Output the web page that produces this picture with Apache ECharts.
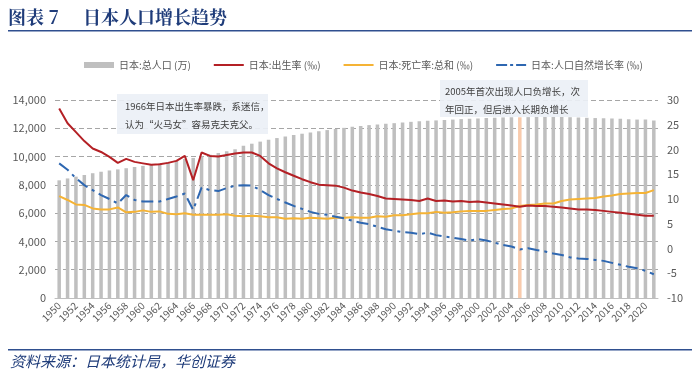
<!DOCTYPE html>
<html>
<head>
<meta charset="utf-8">
<script src="https://cdn.jsdelivr.net/npm/echarts@6/dist/echarts.min.js"></script>
<style>
html,body{margin:0;padding:0;background:#fff;}
#c{width:700px;height:382px;}
</style>
</head>
<body>
<div id="c"></div>
<script>
const years = ['1950','1951','1952','1953','1954','1955','1956','1957','1958','1959',
'1960','1961','1962','1963','1964','1965','1966','1967','1968','1969',
'1970','1971','1972','1973','1974','1975','1976','1977','1978','1979',
'1980','1981','1982','1983','1984','1985','1986','1987','1988','1989',
'1990','1991','1992','1993','1994','1995','1996','1997','1998','1999',
'2000','2001','2002','2003','2004','2005','2006','2007','2008','2009',
'2010','2011','2012','2013','2014','2015','2016','2017','2018','2019',
'2020','2021'];

const population = [8320,8454,8581,8697,8823,8928,9017,9093,9177,9264,
9342,9429,9518,9616,9718,9828,9904,10020,10133,10254,
10372,10515,10760,10910,11057,11194,11309,11417,11519,11616,
11706,11790,11873,11954,12031,12105,12166,12224,12275,12321,
12361,12410,12457,12494,12527,12557,12586,12616,12649,12667,
12693,12732,12749,12769,12779,12777,12790,12803,12808,12803,
12806,12783,12759,12741,12724,12709,12693,12671,12644,12617,
12615,12550];

const birthRate = [28.3,25.3,23.5,21.7,20.2,19.5,18.5,17.3,18.1,17.5,
17.2,16.9,17.0,17.3,17.7,18.7,13.8,19.4,18.7,18.6,
18.9,19.2,19.4,19.4,18.7,17.2,16.2,15.4,14.7,14.0,
13.4,12.9,12.8,12.7,12.3,11.7,11.3,11.0,10.6,10.1,
10.0,9.9,9.8,9.6,10.1,9.6,9.7,9.5,9.6,9.4,
9.5,9.3,9.1,8.9,8.7,8.45,8.7,8.6,8.6,8.45,
8.3,8.1,7.9,7.9,7.8,7.6,7.4,7.2,7.0,6.8,
6.6,6.6];

const deathRate = [10.6,9.8,8.9,8.8,8.1,7.9,7.9,8.3,7.3,7.4,
7.7,7.4,7.5,7.0,6.9,7.1,6.8,6.8,6.8,6.8,
6.9,6.6,6.5,6.6,6.5,6.3,6.3,6.0,6.1,6.0,
6.2,6.1,6.0,6.2,6.2,6.3,6.2,6.2,6.5,6.4,
6.7,6.7,6.9,7.1,7.1,7.4,7.2,7.3,7.5,7.6,
7.6,7.6,7.8,8.0,8.1,8.6,8.8,8.9,9.1,9.1,
9.6,9.9,10.0,10.1,10.2,10.5,10.7,11.0,11.1,11.2,
11.2,11.8];

const naturalGrowth = [17.2,15.9,14.2,12.8,11.8,10.8,10.0,9.1,10.8,9.8,
9.5,9.5,9.5,10.0,10.5,11.1,7.8,12.3,11.8,11.6,
12.2,12.7,12.8,12.7,11.8,10.8,10.0,9.3,8.6,8.0,
7.4,7.0,6.8,6.4,6.1,5.6,5.2,4.9,4.4,3.9,
3.6,3.3,3.2,2.9,3.2,2.7,2.4,2.2,1.9,1.6,
1.9,1.6,1.2,0.7,0.4,-0.2,0.05,-0.3,-0.6,-1.0,
-1.3,-1.8,-2.0,-2.1,-2.3,-2.5,-2.9,-3.3,-3.7,-4.0,
-4.5,-5.2];

const seriesNames = ['日本:总人口 (万)','日本:出生率 (‰)','日本:死亡率:总和 (‰)','日本:人口自然增长率 (‰)'];
const leftTicks = {min:0, max:14000, interval:2000};
const rightTicks = {min:-10, max:30, interval:5};
const highlightYear = '2005';
const titleText = ['图表 7','日本人口增长趋势'];
const sourceText = '资料来源：日本统计局，华创证券';
const note1 = ['1966年日本出生率暴跌，系迷信，','认为“火马女”容易克夫克父。'];
const note2 = ['2005年首次出现人口负增长，次','年回正，但后进入长期负增长'];

const chart = echarts.init(document.getElementById('c'), null, {renderer:'canvas'});
const font = '"Noto Sans CJK SC",sans-serif';
const txtColor = '#595959';
const titleFont = '"Noto Serif CJK SC","Noto Sans CJK SC",serif';

const barData = population.map((v,i)=> years[i]===highlightYear ? {value:v, itemStyle:{color:'#F8CBAD'}} : v);

const solidIcon = 'path://M0,0h30v2h-30z';
const dashDotIcon = 'path://M0,0h11v2h-11z M14,0h3v2h-3z M20,0h10v2h-10z';

const option = {
  animation:false,
  textStyle:{fontFamily:font},
  grid:{left:55, right:42, top:100, bottom:84},
  legend:{
    left:79, top:55, itemWidth:30, itemHeight:6, itemGap:23,
    textStyle:{fontSize:10, color:txtColor, fontFamily:font},
    data:[
      {name:seriesNames[0], icon:'rect'},
      {name:seriesNames[1], icon:solidIcon},
      {name:seriesNames[2], icon:solidIcon},
      {name:seriesNames[3], icon:dashDotIcon}
    ]
  },
  xAxis:{
    type:'category', data:years,
    axisLine:{show:true, lineStyle:{color:'#BFBFBF'}},
    axisTick:{show:false},
    axisLabel:{interval:1, rotate:45, fontSize:10, color:txtColor, margin:6}
  },
  yAxis:[
    {type:'value', min:leftTicks.min, max:leftTicks.max, interval:leftTicks.interval,
     axisLine:{show:false}, axisTick:{show:false},
     axisLabel:{fontSize:11, color:txtColor, margin:9, formatter:v=>v.toLocaleString('en-US')},
     splitLine:{show:true, lineStyle:{color:'#A6A6A6', type:[5,3], width:1}}},
    {type:'value', min:rightTicks.min, max:rightTicks.max, interval:rightTicks.interval,
     axisLine:{show:false}, axisTick:{show:false},
     axisLabel:{fontSize:11, color:txtColor, margin:9},
     splitLine:{show:false}}
  ],
  series:[
    {name:seriesNames[0], type:'bar', data:barData, barWidth:'42%',
     itemStyle:{color:'#BFBFBF'}, yAxisIndex:0},
    {name:seriesNames[1], type:'line', data:birthRate, yAxisIndex:1, symbol:'none',
     lineStyle:{color:'#B42025', width:2}, itemStyle:{color:'#B42025'}, z:5},
    {name:seriesNames[2], type:'line', data:deathRate, yAxisIndex:1, symbol:'none',
     lineStyle:{color:'#F5B335', width:2}, itemStyle:{color:'#F5B335'}, z:4},
    {name:seriesNames[3], type:'line', data:naturalGrowth, yAxisIndex:1, symbol:'none',
     lineStyle:{color:'#2E67B1', width:2, type:[12,5,3,5]}, itemStyle:{color:'#2E67B1'}, z:6}
  ],
  graphic:[
    {type:'text', left:8, top:8, style:{text:titleText[0], fontSize:18, fontWeight:'bold', fill:'#1F3C7A', fontFamily:titleFont}},
    {type:'text', left:83, top:8, style:{text:titleText[1], fontSize:18, fontWeight:'bold', fill:'#1F3C7A', fontFamily:titleFont}},
    {type:'rect', shape:{x:8, y:30, width:684, height:1.5}, style:{fill:'#2F4F8F'}},
    {type:'rect', shape:{x:8, y:349, width:684, height:1.5}, style:{fill:'#2F4F8F'}},
    {type:'text', left:10, top:354, style:{text:sourceText, fontSize:15, fontStyle:'italic', fill:'#1F3C7A', fontFamily:font}},
    {type:'rect', z:10, shape:{x:117, y:94, width:151, height:40}, style:{fill:'rgba(236,240,246,0.92)'}},
    {type:'text', z:11, left:125, top:102, style:{text:note1[0], fontSize:9.5, fill:'#404040', fontFamily:font}},
    {type:'text', z:11, left:125, top:120, style:{text:note1[1], fontSize:9.5, fill:'#404040', fontFamily:font}},
    {type:'rect', z:10, shape:{x:440, y:80, width:148, height:37}, style:{fill:'rgba(236,240,246,0.92)'}},
    {type:'text', z:11, left:445, top:87, style:{text:note2[0], fontSize:9.5, fill:'#404040', fontFamily:font}},
    {type:'text', z:11, left:445, top:105, style:{text:note2[1], fontSize:9.5, fill:'#404040', fontFamily:font}}
  ]
};
chart.setOption(option);
</script>
</body>
</html>
